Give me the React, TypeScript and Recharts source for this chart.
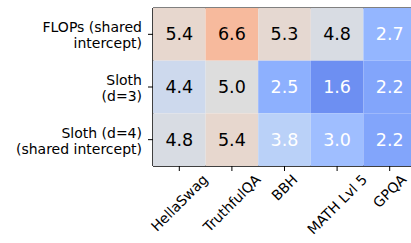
import { ReferenceLine, Scatter, ScatterChart, XAxis, YAxis } from "recharts";

const benchmarks = ["HellaSwag", "TruthfulQA", "BBH", "MATH Lvl 5", "GPQA"];
const methodLabels = [
  ["FLOPs (shared", "intercept)"],
  ["Sloth", "(d=3)"],
  ["Sloth (d=4)", "(shared intercept)"],
];
const flopsShared = [5.4, 6.6, 5.3, 4.8, 2.7];
const slothD3 = [4.4, 5.0, 2.5, 1.6, 2.2];
const slothD4Shared = [4.8, 5.4, 3.8, 3.0, 2.2];

const rows = [flopsShared, slothD3, slothD4Shared];
const cells = rows.flatMap((row, r) =>
  row.map((value, c) => ({ x: c, y: r, value }))
);

// matplotlib coolwarm, sampled every 1/32
const coolwarm = [
  [59, 76, 192], [68, 90, 204], [77, 104, 215], [87, 117, 225], [98, 130, 234],
  [108, 142, 241], [119, 154, 247], [130, 165, 251], [141, 176, 254], [152, 185, 255],
  [163, 194, 255], [174, 201, 253], [184, 208, 249], [194, 213, 244], [204, 217, 238],
  [213, 219, 230], [221, 221, 221], [229, 216, 209], [236, 211, 197], [241, 204, 184],
  [245, 196, 172], [247, 187, 159], [247, 177, 146], [246, 166, 133], [244, 154, 123],
  [241, 141, 111], [236, 127, 99], [229, 112, 89], [222, 96, 77], [213, 80, 66],
  [203, 62, 56], [192, 40, 47], [180, 4, 38],
];

function colorFor(v: number) {
  const t = Math.min(1, Math.max(0, v / 10)) * 32;
  const i = Math.min(31, Math.floor(t));
  const f = t - i;
  const a = coolwarm[i];
  const b = coolwarm[i + 1];
  const mix = (k: number) => Math.round(a[k] + (b[k] - a[k]) * f);
  return `rgb(${mix(0)},${mix(1)},${mix(2)})`;
}

const FONT = "DejaVu Sans";
const TICK_SIZE = 14;
const W = 416;
const H = 243;
const LEFT = 153;
const TOP = 8;
const XAXIS_H = 77;
const plotW = W - LEFT;
const plotH = H - TOP - XAXIS_H;
const cellW = plotW / benchmarks.length;
const cellH = plotH / rows.length;

let ctx: CanvasRenderingContext2D | null = null;
function textWidth(s: string, size: number) {
  if (!ctx) ctx = document.createElement("canvas").getContext("2d");
  if (!ctx) return s.length * size * 0.6;
  ctx.font = `${size}px "${FONT}"`;
  return ctx.measureText(s).width;
}

function Cell(props: any) {
  const { cx, cy, payload } = props;
  const v = payload.value as number;
  return (
    <g>
      <rect
        x={cx - cellW / 2}
        y={cy - cellH / 2}
        width={cellW}
        height={cellH}
        fill={colorFor(v)}
      />
      <text
        x={cx}
        y={cy}
        textAnchor="middle"
        dominantBaseline="central"
        fontFamily={FONT}
        fontSize={17.5}
        fill={v < 4 ? "#ffffff" : "#000000"}
      >
        {v.toFixed(1)}
      </text>
    </g>
  );
}

function XTick(props: any) {
  const { x, payload } = props;
  const label = benchmarks[payload.value];
  const w = textWidth(label, TICK_SIZE);
  const cy = 172 + (w + TICK_SIZE) * 0.3536;
  return (
    <text
      x={x}
      y={cy}
      textAnchor="middle"
      dominantBaseline="central"
      fontFamily={FONT}
      fontSize={TICK_SIZE}
      fill="#000"
      transform={`rotate(-45, ${x}, ${cy})`}
    >
      {label}
    </text>
  );
}

function YTick(props: any) {
  const { x, y, payload } = props;
  const lines = methodLabels[payload.value];
  return (
    <text
      x={x - 4}
      y={y}
      textAnchor="end"
      fontFamily={FONT}
      fontSize={TICK_SIZE}
      fill="#000"
    >
      {lines.map((line, i) => (
        <tspan
          key={i}
          x={x - 4}
          y={y + 1 + (i - 0.5) * 16}
          dominantBaseline="central"
        >
          {line}
        </tspan>
      ))}
    </text>
  );
}

export default function App() {
  return (
    <div style={{ position: "absolute", left: 0, top: 0 }}>
      <ScatterChart
        width={W}
        height={H}
        margin={{ top: TOP, right: 0, bottom: 0, left: 0 }}
      >
        <XAxis
          type="number"
          dataKey="x"
          domain={[-0.5, 4.5]}
          ticks={[0, 1, 2, 3, 4]}
          height={XAXIS_H}
          tickSize={5}
          stroke="#000"
          tick={<XTick />}
          interval={0}
        />
        <YAxis
          type="number"
          dataKey="y"
          domain={[-0.5, 2.5]}
          ticks={[0, 1, 2]}
          reversed
          width={LEFT}
          tickSize={5}
          stroke="#000"
          tick={<YTick />}
          interval={0}
        />
        <Scatter data={cells} shape={<Cell />} isAnimationActive={false} />
        <ReferenceLine y={-0.5} stroke="#000" strokeWidth={1} />
        <ReferenceLine y={2.5} stroke="#000" strokeWidth={1} />
        <ReferenceLine x={-0.5} stroke="#000" strokeWidth={1} />
        <ReferenceLine x={4.5} stroke="#000" strokeWidth={1} />
      </ScatterChart>
    </div>
  );
}
